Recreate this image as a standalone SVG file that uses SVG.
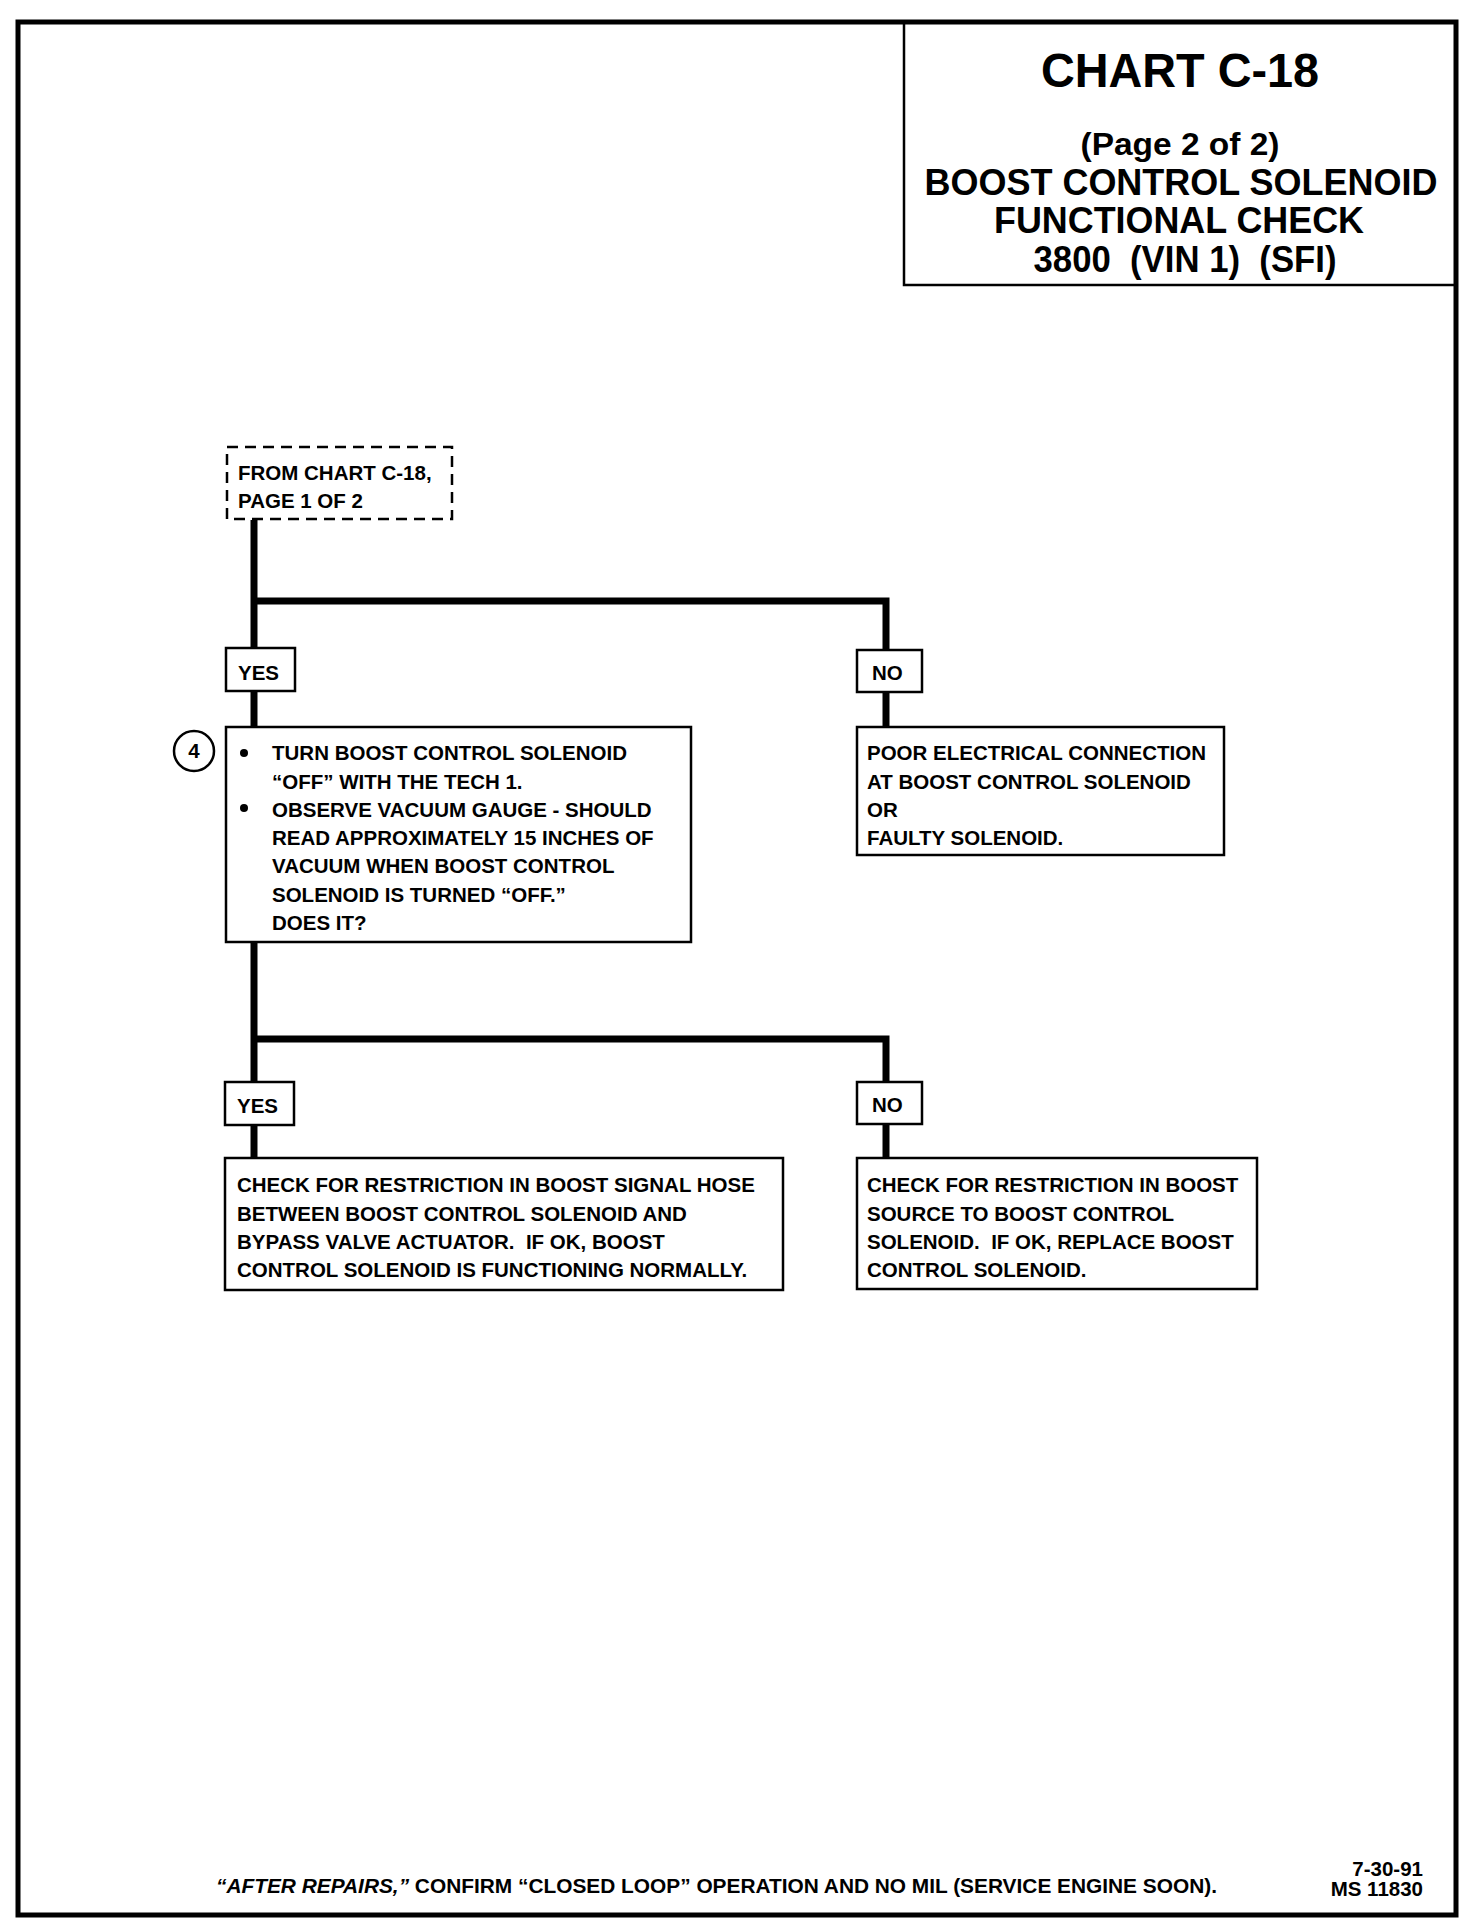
<svg xmlns="http://www.w3.org/2000/svg" width="1472" height="1920" viewBox="0 0 1472 1920">
<style>
  text { font-family: "Liberation Sans", Arial, sans-serif; font-weight: bold; fill: #000; }
  .t { font-size: 20.5px; }
  .box { fill: #fff; stroke: #000; stroke-width: 2.5; }
  .dash { fill: #fff; stroke: #000; stroke-width: 2.5; stroke-dasharray: 11 7; }
  .wire { fill: none; stroke: #000; stroke-width: 7; stroke-linejoin: miter; stroke-linecap: butt; }
  .title { text-anchor: middle; }
</style>
<rect x="0" y="0" width="1472" height="1920" fill="#fff"/>
<g id="page-border">
  <rect x="18" y="22" width="1438" height="1893" fill="none" stroke="#000" stroke-width="5"/>
</g>
<g id="title-block">
  <path d="M904 22 V285 H1456" fill="none" stroke="#000" stroke-width="2.5"/>
  <text class="title" x="1180" y="87" font-size="48" textLength="278" lengthAdjust="spacingAndGlyphs">CHART C-18</text>
  <text class="title" x="1180" y="155" font-size="32" textLength="199" lengthAdjust="spacingAndGlyphs">(Page 2 of 2)</text>
  <text class="title" x="1181" y="195" font-size="37" textLength="513" lengthAdjust="spacingAndGlyphs">BOOST CONTROL SOLENOID</text>
  <text class="title" x="1179" y="233" font-size="37" textLength="370" lengthAdjust="spacingAndGlyphs">FUNCTIONAL CHECK</text>
  <text class="title" x="1185" y="272" font-size="37" textLength="303" lengthAdjust="spacingAndGlyphs" xml:space="preserve">3800  (VIN 1)  (SFI)</text>
</g>
<g id="connectors">
  <path class="wire" d="M254 520 V647"/>
  <path class="wire" d="M254 601 H886 V650"/>
  <path class="wire" d="M254 691 V727"/>
  <path class="wire" d="M886 692 V727"/>
  <path class="wire" d="M254 942 V1082"/>
  <path class="wire" d="M254 1039 H886 V1082"/>
  <path class="wire" d="M254 1125 V1158"/>
  <path class="wire" d="M886 1124 V1158"/>
</g>
<g id="from-chart">
  <rect class="dash" x="227" y="447" width="225" height="72"/>
  <text class="t" x="238" y="480">FROM CHART C-18,</text>
  <text class="t" x="238" y="508">PAGE 1 OF 2</text>
</g>
<g id="yes1">
  <rect class="box" x="226" y="648" width="69" height="43"/>
  <text class="t" x="238" y="680">YES</text>
</g>
<g id="no1">
  <rect class="box" x="857" y="650" width="65" height="42"/>
  <text class="t" x="872" y="680">NO</text>
</g>
<g id="step4">
  <circle cx="194" cy="751" r="20" fill="#fff" stroke="#000" stroke-width="2.5"/>
  <text class="t" x="194" y="758" text-anchor="middle">4</text>
  <rect class="box" x="226" y="727" width="465" height="215"/>
  <circle cx="244" cy="753" r="4"/>
  <circle cx="244" cy="808" r="4"/>
  <text class="t" x="272" y="760">TURN BOOST CONTROL SOLENOID</text>
  <text class="t" x="272" y="789">“OFF” WITH THE TECH 1.</text>
  <text class="t" x="272" y="817">OBSERVE VACUUM GAUGE - SHOULD</text>
  <text class="t" x="272" y="845">READ APPROXIMATELY 15 INCHES OF</text>
  <text class="t" x="272" y="873">VACUUM WHEN BOOST CONTROL</text>
  <text class="t" x="272" y="902">SOLENOID IS TURNED “OFF.”</text>
  <text class="t" x="272" y="930">DOES IT?</text>
</g>
<g id="poor-connection">
  <rect class="box" x="857" y="727" width="367" height="128"/>
  <text class="t" x="867" y="760">POOR ELECTRICAL CONNECTION</text>
  <text class="t" x="867" y="789">AT BOOST CONTROL SOLENOID</text>
  <text class="t" x="867" y="817">OR</text>
  <text class="t" x="867" y="845">FAULTY SOLENOID.</text>
</g>
<g id="yes2">
  <rect class="box" x="225" y="1082" width="69" height="43"/>
  <text class="t" x="237" y="1113">YES</text>
</g>
<g id="no2">
  <rect class="box" x="857" y="1082" width="65" height="42"/>
  <text class="t" x="872" y="1112">NO</text>
</g>
<g id="signal-hose">
  <rect class="box" x="225" y="1158" width="558" height="132"/>
  <text class="t" x="237" y="1192">CHECK FOR RESTRICTION IN BOOST SIGNAL HOSE</text>
  <text class="t" x="237" y="1221">BETWEEN BOOST CONTROL SOLENOID AND</text>
  <text class="t" x="237" y="1249" xml:space="preserve">BYPASS VALVE ACTUATOR.  IF OK, BOOST</text>
  <text class="t" x="237" y="1277">CONTROL SOLENOID IS FUNCTIONING NORMALLY.</text>
</g>
<g id="boost-source">
  <rect class="box" x="857" y="1158" width="400" height="131"/>
  <text class="t" x="867" y="1192">CHECK FOR RESTRICTION IN BOOST</text>
  <text class="t" x="867" y="1221">SOURCE TO BOOST CONTROL</text>
  <text class="t" x="867" y="1249" xml:space="preserve">SOLENOID.  IF OK, REPLACE BOOST</text>
  <text class="t" x="867" y="1277">CONTROL SOLENOID.</text>
</g>
<g id="footer">
  <text class="t" x="216" y="1893" textLength="1001" lengthAdjust="spacingAndGlyphs"><tspan font-style="italic">“AFTER REPAIRS,”</tspan> CONFIRM “CLOSED LOOP” OPERATION AND NO MIL (SERVICE ENGINE SOON).</text>
  <text class="t" x="1423" y="1876" text-anchor="end">7-30-91</text>
  <text class="t" x="1423" y="1896" text-anchor="end">MS 11830</text>
</g>
</svg>
